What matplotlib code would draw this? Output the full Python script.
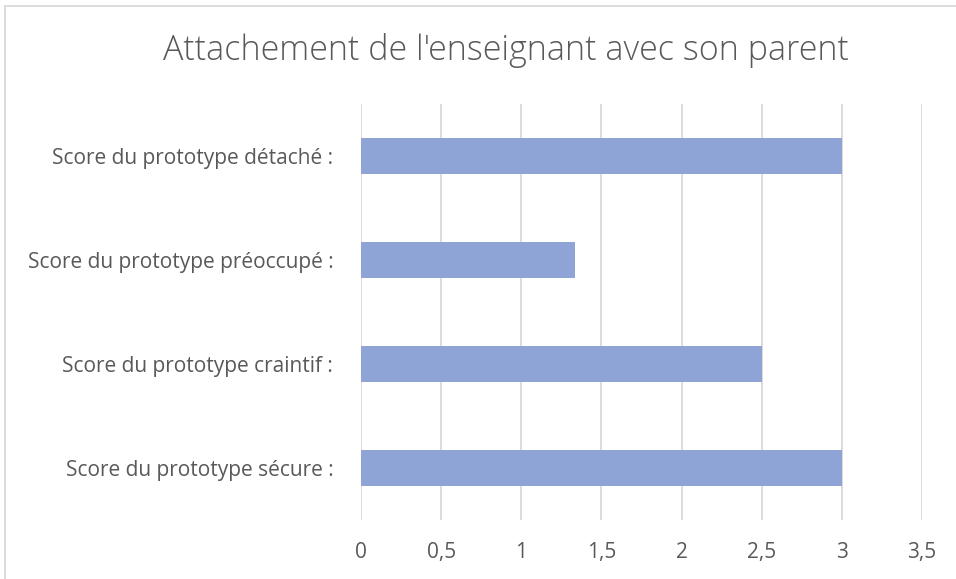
import matplotlib.pyplot as plt
from matplotlib.patches import Rectangle

categories = ["Score du prototype sécure :",
              "Score du prototype craintif :",
              "Score du prototype préoccupé :",
              "Score du prototype détaché :"]
scores = [3, 2.5, 4 / 3, 3]
x_ticks = [0, 0.5, 1, 1.5, 2, 2.5, 3, 3.5]
x_labels = ["0", "0,5", "1", "1,5", "2", "2,5", "3", "3,5"]
title = "Attachement de l'enseignant avec son parent"

plt.rcParams['font.family'] = ['Open Sans', 'DejaVu Sans']
txt = '#595959'

fig = plt.figure(figsize=(9.56, 5.79), dpi=100)
ax = fig.add_axes([361 / 956, 59 / 579, 561 / 956, 416 / 579])

pos = range(len(categories))
ax.barh(pos, scores, height=0.355, color='#8FA4D6', zorder=3)

ax.set_xlim(0, 3.5)
ax.set_ylim(-0.5, 3.5)
ax.set_xticks(x_ticks)
ax.set_xticklabels(x_labels, fontsize=15, color=txt)
ax.set_yticks(list(pos))
ax.set_yticklabels(categories, fontsize=15, color=txt)
ax.tick_params(axis='x', length=0, pad=16)
ax.tick_params(axis='y', length=0, pad=20)
ax.grid(axis='x', color='#D9D9D9', linewidth=1.3, zorder=0)
for s in ax.spines.values():
    s.set_visible(False)

fig.text(506 / 956, 1 - 51 / 579, title, ha='center', va='center',
         fontsize=24.5, color=txt, fontweight='light')

# chart frame (cut off at the right and bottom)
fig.patches.append(Rectangle((5 / 956, -0.1), 1.2, 1 - 6 / 579 + 0.1,
                             transform=fig.transFigure, fill=False,
                             edgecolor='#D9D9D9', linewidth=1.3))

fig.savefig('out.png', dpi=100)
